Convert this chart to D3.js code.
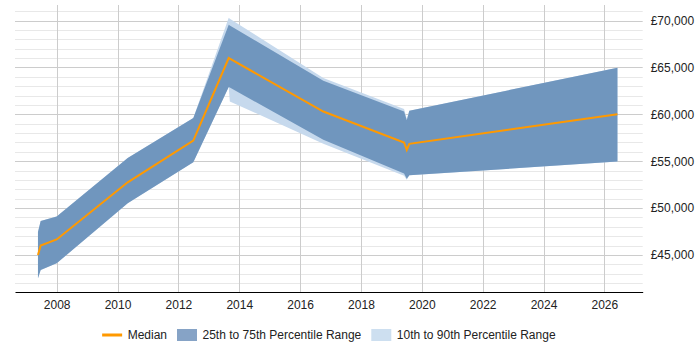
<html>
<head>
    <meta charset="UTF-8">
    <title>Salary trend</title>
    <script src="https://d3js.org/d3.v7.min.js"></script>
    <style>
        body { margin: 0; background: #fff; }
        text { font-family: "Liberation Sans", Arial, sans-serif; font-size: 12px; fill: #222; }
        .axis path { stroke: #000; }
        .axis line { stroke: none; }
    </style>
</head>
<body>
    <svg width="700" height="350"></svg>
    <script>
        // data (decimal years)
        var years  = [2007.385, 2007.474, 2008.0, 2010.334, 2012.49, 2013.654, 2013.69, 2016.764, 2019.417, 2019.506, 2019.59, 2026.43];
        var median = [45000, 46000, 46650, 52750, 57200, 66000, 65930, 60300, 57000, 56200, 56850, 60000];
        var p25    = [42510, 43400, 44110, 50520, 54900, 62920, 62850, 57290, 53700, 53120, 53490, 54970];
        var p75    = [47460, 48630, 49090, 55330, 59600, 69550, 69480, 63590, 60310, 59370, 60390, 64970];
        var p10    = [42510, 43400, 44110, 50520, 54900, 62920, 61380, 56860, 53440, 53010, 53490, 54970];
        var p90    = [47460, 48630, 49090, 55330, 59600, 70300, 70200, 63880, 60570, 59530, 60390, 64970];

        var xTicks = [2008, 2010, 2012, 2014, 2016, 2018, 2020, 2022, 2024, 2026];
        var yTicks = [45000, 50000, 55000, 60000, 65000, 70000];
        var legendLabels = ['Median', '25th to 75th Percentile Range', '10th to 90th Percentile Range'];

        var svg = d3.select('svg'),
            margin = { top: 5, right: 57.3, bottom: 58, left: 15 },
            width = +svg.attr('width') - margin.left - margin.right,
            height = +svg.attr('height') - margin.top - margin.bottom;

        var g = svg.append('g').attr('transform', 'translate(' + margin.left + ',' + margin.top + ')');

        var x = d3.scaleLinear().domain([2006.63, 2027.26]).range([0, width]);
        var y = d3.scaleLinear().domain([41050, 71660]).range([height, 0]);

        var data = years.map(function (t, i) {
            return { t: t, med: median[i], p10: p10[i], p25: p25[i], p75: p75[i], p90: p90[i] };
        });

        // horizontal grid, minor every 1000, major every 5000
        var minor = d3.range(42000, 72000, 1000);
        g.append('g').selectAll('line').data(minor).enter().append('line')
            .attr('x1', 0).attr('x2', width)
            .attr('y1', function (d) { return Math.round(y(d)) + 0.5; })
            .attr('y2', function (d) { return Math.round(y(d)) + 0.5; })
            .attr('stroke', function (d) { return d % 5000 === 0 ? '#cccccc' : '#e8e8e8'; });

        // vertical grid
        g.append('g').selectAll('line').data(xTicks).enter().append('line')
            .attr('x1', function (d) { return Math.round(x(d)) + 0.5; })
            .attr('x2', function (d) { return Math.round(x(d)) + 0.5; })
            .attr('y1', 0).attr('y2', height)
            .attr('stroke', '#cccccc');

        var band = function (lo, hi) {
            return d3.area()
                .x(function (d) { return x(d.t); })
                .y0(function (d) { return y(d[lo]); })
                .y1(function (d) { return y(d[hi]); });
        };

        g.append('path').datum(data).attr('d', band('p10', 'p90')).attr('fill', '#c6d9ed');
        g.append('path').datum(data).attr('d', band('p25', 'p75')).attr('fill', '#7096be');

        g.append('path').datum(data)
            .attr('d', d3.line().x(function (d) { return x(d.t); }).y(function (d) { return y(d.med); }))
            .attr('fill', 'none')
            .attr('stroke', '#ff9900')
            .attr('stroke-width', 2)
            .attr('stroke-linejoin', 'miter');

        g.append('g')
            .attr('class', 'axis')
            .attr('transform', 'translate(0,' + height + ')')
            .call(d3.axisBottom(x).tickValues(xTicks).tickFormat(d3.format('d')).tickSize(0).tickSizeOuter(0).tickPadding(8))
            .call(function (s) { s.selectAll('text').attr('fill', '#222').style('font-size', '12px').style('font-family', null); s.attr('font-family', null); });

        g.append('g')
            .attr('class', 'axis')
            .attr('transform', 'translate(' + width + ',0)')
            .call(d3.axisRight(y).tickValues(yTicks).tickFormat(function (d) { return '£' + d3.format(',')(d); }).tickSize(0).tickPadding(8))
            .call(function (s) { s.select('.domain').remove(); s.selectAll('text').attr('fill', '#222').style('font-size', '12px'); s.attr('font-family', null); });

        // legend, centred under the plot
        var legend = svg.append('g');
        var ly = 335, cx = 0;
        var items = legend.selectAll('g').data(legendLabels).enter().append('g');
        items.each(function (d, i) {
            var it = d3.select(this);
            if (i === 0) {
                it.append('line').attr('x1', cx).attr('x2', cx + 20).attr('y1', ly).attr('y2', ly)
                    .attr('stroke', '#ff9900').attr('stroke-width', 3);
            } else {
                it.append('rect').attr('x', cx).attr('y', ly - 6).attr('width', 20).attr('height', 12)
                    .attr('fill', i === 1 ? '#86a3c6' : '#cddff0');
            }
            var t = it.append('text').attr('x', cx + 25.5).attr('y', ly + 4.3).text(d);
            cx += 25.5 + t.node().getComputedTextLength() + 10;
        });
        var total = cx - 10;
        legend.attr('transform', 'translate(' + (margin.left + width / 2 - total / 2) + ',0)');
    </script>
</body>
</html>
